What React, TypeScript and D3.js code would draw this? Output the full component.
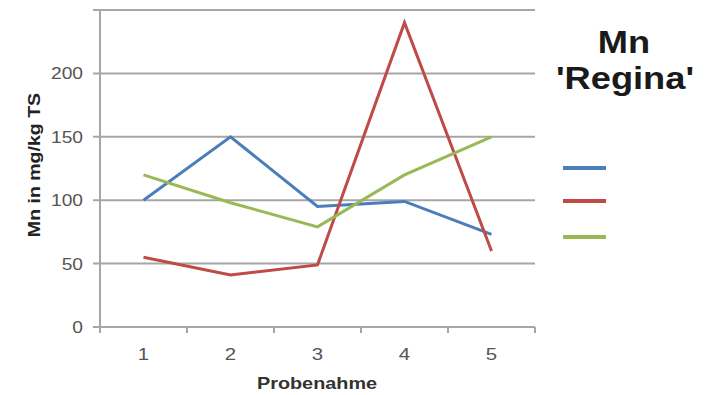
import React from "react";
import * as d3 from "d3";

const categories = ["1", "2", "3", "4", "5"];
const seriesNames = ["A", "B", "C"];
const blueValues = [100, 150, 95, 99, 73];
const redValues = [55, 41, 49, 240, 60];
const greenValues = [120, 98, 79, 120, 150];
const seriesColors = ["#4a7ebb", "#be4b48", "#98b954"];
const yTicks = [0, 50, 100, 150, 200, 250];
const yTickLabels = ["0", "50", "100", "150", "200", ""];

export default function App() {
  const W = 717, H = 395;
  const left = 100, right = 535, top = 10, bottom = 327;
  const x = d3.scaleBand<string>().domain(categories).range([left, right]);
  const y = d3.scaleLinear().domain([0, 250]).range([bottom, top]);
  const line = d3
    .line<number>()
    .x((_, i) => (x(categories[i]) as number) + x.bandwidth() / 2)
    .y((d) => y(d));
  const series = [blueValues, redValues, greenValues];
  const font = "'Liberation Sans', Arial, sans-serif";
  const legendY = [168, 201, 237];
  const sx = 1.2;
  return (
    <svg width={W} height={H} style={{ position: "absolute", left: 0, top: 0 }}>
      <rect width={W} height={H} fill="#fff" />
      {yTicks.map((t, i) => (
        <g key={t}>
          <line x1={left - 7} x2={right} y1={y(t)} y2={y(t)} stroke="#a6a6a6" strokeWidth={2} />
          <text
            transform={`translate(83,${y(t) + 6}) scale(${sx},1)`}
            textAnchor="end"
            fontFamily={font}
            fontSize={16}
            fill="#555"
          >
            {yTickLabels[i]}
          </text>
        </g>
      ))}
      <line x1={left} x2={left} y1={top} y2={bottom} stroke="#a6a6a6" strokeWidth={2} />
      <line x1={left - 2} x2={right} y1={bottom} y2={bottom} stroke="#a6a6a6" strokeWidth={2} />
      {[...categories.map((c) => x(c) as number), right].map((v, i) => (
        <line key={i} x1={v} x2={v} y1={bottom} y2={bottom + 6} stroke="#a6a6a6" strokeWidth={2} />
      ))}
      {categories.map((c) => (
        <text
          key={c}
          transform={`translate(${(x(c) as number) + x.bandwidth() / 2},${bottom + 33}) scale(${sx},1)`}
          textAnchor="middle"
          fontFamily={font}
          fontSize={17}
          fill="#555"
        >
          {c}
        </text>
      ))}
      {series.map((s, i) => (
        <path key={seriesNames[i]} d={line(s) || ""} fill="none" stroke={seriesColors[i]} strokeWidth={3} />
      ))}
      <text
        transform={`translate(317,389) scale(1.24,1)`}
        textAnchor="middle"
        fontFamily={font}
        fontSize={16}
        fontWeight="bold"
        fill="#333"
      >
        Probenahme
      </text>
      <text
        transform={`translate(40,165) rotate(-90) scale(1.15,1)`}
        textAnchor="middle"
        fontFamily={font}
        fontSize={17}
        fontWeight="bold"
        fill="#222"
      >
        Mn in mg/kg TS
      </text>
      <text
        transform={`translate(624,53) scale(1.17,1)`}
        textAnchor="middle"
        fontFamily={font}
        fontSize={31}
        fontWeight="bold"
        fill="#1a1a1a"
      >
        Mn
      </text>
      <text
        transform={`translate(625,89) scale(1.17,1)`}
        textAnchor="middle"
        fontFamily={font}
        fontSize={31}
        fontWeight="bold"
        fill="#1a1a1a"
      >
        'Regina'
      </text>
      {seriesColors.map((c, i) => (
        <line key={c} x1={563} x2={606} y1={legendY[i]} y2={legendY[i]} stroke={c} strokeWidth={4} />
      ))}
    </svg>
  );
}
